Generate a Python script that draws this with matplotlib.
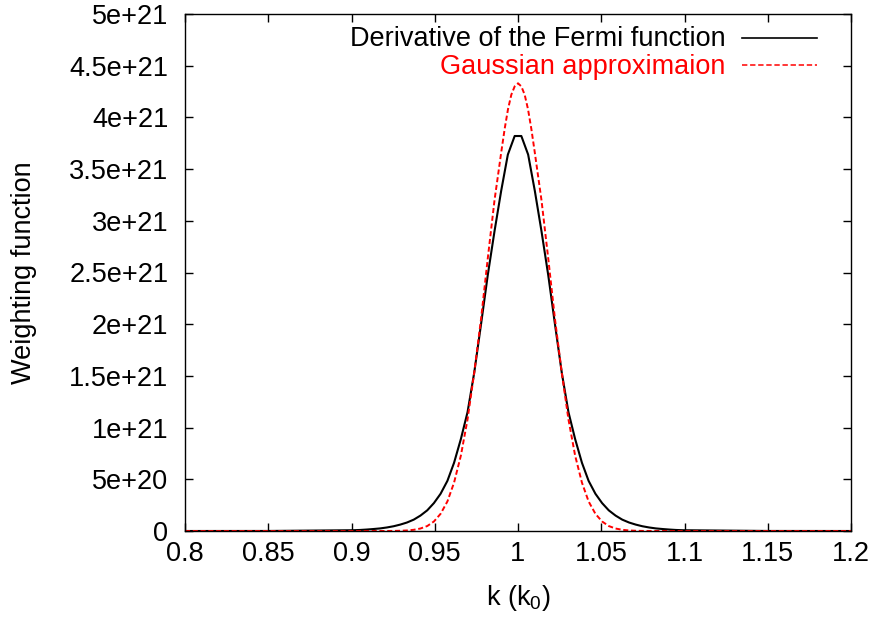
import numpy as np
import matplotlib
matplotlib.use("Agg")
import matplotlib.pyplot as plt
from matplotlib.ticker import FuncFormatter

plt.rcParams["font.family"] = ["Liberation Sans", "DejaVu Sans"]
plt.rcParams["mathtext.default"] = "regular"

# k values (units of k0) for the Fermi curve
k_fermi = [0.80, 0.85,
           0.9010, 0.9051, 0.9091, 0.9131, 0.9172, 0.9212, 0.9253, 0.9293, 0.9333,
           0.9374, 0.9414, 0.9455, 0.9495, 0.9535, 0.9576, 0.9616, 0.9657, 0.9697,
           0.9737, 0.9778, 0.9818, 0.9859, 0.9899, 0.9939, 0.9980,
           1.0020, 1.0061, 1.0101, 1.0141, 1.0182, 1.0222, 1.0263, 1.0303, 1.0343,
           1.0384, 1.0424, 1.0465, 1.0505, 1.0545, 1.0586, 1.0626, 1.0667, 1.0707,
           1.0747, 1.0788, 1.0828, 1.0869, 1.0909, 1.0949, 1.0990,
           1.15, 1.20]

# derivative of the Fermi function (units of 1e21)
fermi = [0.0001, 0.0005,
         0.0075, 0.010, 0.014, 0.019, 0.025, 0.034, 0.046, 0.062, 0.082,
         0.110, 0.149, 0.20, 0.27, 0.36, 0.485, 0.66, 0.89, 1.15,
         1.53, 2.00, 2.47, 2.90, 3.29, 3.64, 3.82,
         3.82, 3.64, 3.29, 2.90, 2.47, 2.00, 1.53, 1.15, 0.89,
         0.66, 0.485, 0.36, 0.27, 0.20, 0.149, 0.110, 0.082, 0.062,
         0.046, 0.034, 0.025, 0.019, 0.014, 0.010, 0.0075,
         0.0005, 0.0001]

# k values for the gaussian (finer near the top)
k_gauss = [0.80, 0.90, 0.9212, 0.9253, 0.9293, 0.9333,
           0.9374, 0.9414, 0.9455, 0.9495, 0.9535, 0.9576, 0.9616, 0.9657, 0.9697,
           0.9737, 0.9778, 0.9818, 0.9859, 0.990, 0.992, 0.994, 0.996, 0.998, 1.000,
           1.002, 1.004, 1.006, 1.008, 1.010, 1.0141, 1.0182, 1.0222, 1.0263,
           1.0303, 1.0343, 1.0384, 1.0424, 1.0465, 1.0505, 1.0545, 1.0586, 1.0626,
           1.0667, 1.0707, 1.0747, 1.0788, 1.10, 1.20]

# gaussian approximation (units of 1e21)
gauss = [0.0, 0.0, 0.0004, 0.0009, 0.0023, 0.0053,
         0.0116, 0.024, 0.048, 0.092, 0.166, 0.286, 0.468, 0.73, 1.08,
         1.53, 2.05, 2.63, 3.20, 3.67, 3.89, 4.08, 4.22, 4.30, 4.33,
         4.30, 4.22, 4.08, 3.89, 3.67, 3.20, 2.63, 2.05, 1.53,
         1.08, 0.73, 0.468, 0.286, 0.166, 0.092, 0.048, 0.024, 0.0116,
         0.0053, 0.0023, 0.0009, 0.0004, 0.0, 0.0]

xticks = [0.8, 0.85, 0.9, 0.95, 1.0, 1.05, 1.1, 1.15, 1.2]
yticks = [0, 0.5e21, 1e21, 1.5e21, 2e21, 2.5e21, 3e21, 3.5e21, 4e21, 4.5e21, 5e21]

k_fermi = np.array(k_fermi)
k_gauss = np.array(k_gauss)
fermi = np.array(fermi) * 1e21
gauss = np.array(gauss) * 1e21

fig = plt.figure(figsize=(8.69, 6.19), dpi=100)
ax = fig.add_axes([185 / 869, 1 - 531 / 619, 666 / 869, 517 / 619])

ax.plot(k_fermi, fermi, color="black", lw=1.5)
ax.plot(k_gauss, gauss, color="red", lw=1.4, dashes=(2.6, 1.4))

ax.set_xlim(0.8, 1.2)
ax.set_ylim(0, 5e21)
ax.set_xticks(xticks)
ax.set_yticks(yticks)
fmt = FuncFormatter(lambda v, p: "%g" % v)
ax.xaxis.set_major_formatter(fmt)
ax.yaxis.set_major_formatter(fmt)
ax.tick_params(direction="in", length=6, width=1, top=True, right=True,
               labelsize=19.5)
ax.tick_params(axis="x", pad=7)
ax.tick_params(axis="y", pad=12)
for s in ax.spines.values():
    s.set_linewidth(1.0)

ax.set_xlabel("k (k$_0$)", fontsize=19.5, labelpad=12)
ax.set_ylabel("Weighting function", fontsize=19.5, labelpad=23)

# gnuplot style key, top right
ax.text(0.811, 0.951, "Derivative of the Fermi function", transform=ax.transAxes,
        ha="right", va="center", fontsize=19.5, color="black")
ax.text(0.811, 0.897, "Gaussian approximaion", transform=ax.transAxes,
        ha="right", va="center", fontsize=19.5, color="red")
ax.plot([0.836, 0.949], [0.954, 0.954], transform=ax.transAxes,
        color="black", lw=1.2)
ax.plot([0.836, 0.949], [0.901, 0.901], transform=ax.transAxes,
        color="red", lw=1.1, dashes=(3.5, 1.8))

fig.savefig("out.png", dpi=100)
